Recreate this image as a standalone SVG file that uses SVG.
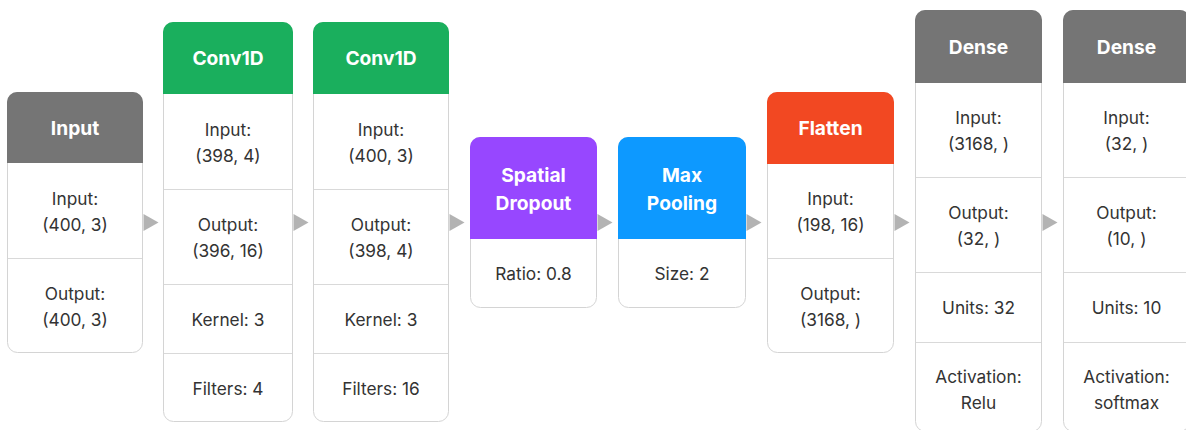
<svg xmlns="http://www.w3.org/2000/svg" width="1186" height="430" viewBox="0 0 1186 430">
<style>
.box{fill:#ffffff;stroke:#d4d4d4;stroke-width:1}
.div{stroke:#d9d9d9;stroke-width:1}
.hd{font-family:Inter,"Liberation Sans",sans-serif;font-weight:700;font-size:19.2px;fill:#ffffff;text-anchor:middle;dominant-baseline:central}
.tx{font-family:Inter,"Liberation Sans",sans-serif;font-weight:400;font-size:17.3px;fill:#333333;text-anchor:middle;dominant-baseline:central}
.arr{fill:#b3b3b3}
.gray{fill:#757575}.green{fill:#1aaf5d}.purple{fill:#9747ff}.blue{fill:#0d99ff}.red{fill:#f24822}
</style>
<rect width="1186" height="430" fill="#ffffff"/>

<g id="node-input">
<rect class="box" x="7.5" y="92.5" width="135" height="260" rx="10"/>
<path class="gray" d="M7,163 V102 A10,10 0 0 1 17,92 H133 A10,10 0 0 1 143,102 V163 Z"/>
<text class="hd" x="75" y="128">Input</text>
<line class="div" x1="8" y1="258.5" x2="142" y2="258.5"/>
<text class="tx" x="75" y="198">Input:</text>
<text class="tx" x="75" y="224">(400, 3)</text>
<text class="tx" x="75" y="293">Output:</text>
<text class="tx" x="75" y="319">(400, 3)</text>
</g>

<g id="node-conv1">
<rect class="box" x="163.5" y="22.5" width="129" height="399" rx="10"/>
<path class="green" d="M163,94 V32 A10,10 0 0 1 173,22 H283 A10,10 0 0 1 293,32 V94 Z"/>
<text class="hd" x="228" y="58">Conv1D</text>
<line class="div" x1="164" y1="189.5" x2="292" y2="189.5"/>
<line class="div" x1="164" y1="284.5" x2="292" y2="284.5"/>
<line class="div" x1="164" y1="353.5" x2="292" y2="353.5"/>
<text class="tx" x="228" y="129">Input:</text>
<text class="tx" x="228" y="155">(398, 4)</text>
<text class="tx" x="228" y="224">Output:</text>
<text class="tx" x="228" y="250">(396, 16)</text>
<text class="tx" x="228" y="319">Kernel: 3</text>
<text class="tx" x="228" y="388">Filters: 4</text>
</g>

<g id="node-conv2">
<rect class="box" x="313.5" y="22.5" width="135" height="399" rx="10"/>
<path class="green" d="M313,94 V32 A10,10 0 0 1 323,22 H439 A10,10 0 0 1 449,32 V94 Z"/>
<text class="hd" x="381" y="58">Conv1D</text>
<line class="div" x1="314" y1="189.5" x2="448" y2="189.5"/>
<line class="div" x1="314" y1="284.5" x2="448" y2="284.5"/>
<line class="div" x1="314" y1="353.5" x2="448" y2="353.5"/>
<text class="tx" x="381" y="129">Input:</text>
<text class="tx" x="381" y="155">(400, 3)</text>
<text class="tx" x="381" y="224">Output:</text>
<text class="tx" x="381" y="250">(398, 4)</text>
<text class="tx" x="381" y="319">Kernel: 3</text>
<text class="tx" x="381" y="388">Filters: 16</text>
</g>

<g id="node-spatial-dropout">
<rect class="box" x="470.5" y="137.5" width="126" height="170" rx="10"/>
<path class="purple" d="M470,239 V147 A10,10 0 0 1 480,137 H587 A10,10 0 0 1 597,147 V239 Z"/>
<text class="hd" x="533.5" y="175">Spatial</text>
<text class="hd" x="533.5" y="203">Dropout</text>
<text class="tx" x="533.5" y="273">Ratio: 0.8</text>
</g>

<g id="node-max-pooling">
<rect class="box" x="618.5" y="137.5" width="127" height="170" rx="10"/>
<path class="blue" d="M618,239 V147 A10,10 0 0 1 628,137 H736 A10,10 0 0 1 746,147 V239 Z"/>
<text class="hd" x="682" y="175">Max</text>
<text class="hd" x="682" y="203">Pooling</text>
<text class="tx" x="682" y="273">Size: 2</text>
</g>

<g id="node-flatten">
<rect class="box" x="767.5" y="92.5" width="126" height="260" rx="10"/>
<path class="red" d="M767,164 V102 A10,10 0 0 1 777,92 H884 A10,10 0 0 1 894,102 V164 Z"/>
<text class="hd" x="830.5" y="128">Flatten</text>
<line class="div" x1="768" y1="258.5" x2="893" y2="258.5"/>
<text class="tx" x="830.5" y="198">Input:</text>
<text class="tx" x="830.5" y="224">(198, 16)</text>
<text class="tx" x="830.5" y="293">Output:</text>
<text class="tx" x="830.5" y="319">(3168, )</text>
</g>

<g id="node-dense1">
<rect class="box" x="915.5" y="10.5" width="126" height="421" rx="10"/>
<path class="gray" d="M915,83 V20 A10,10 0 0 1 925,10 H1032 A10,10 0 0 1 1042,20 V83 Z"/>
<text class="hd" x="978.5" y="46.5">Dense</text>
<line class="div" x1="916" y1="177.5" x2="1041" y2="177.5"/>
<line class="div" x1="916" y1="272.5" x2="1041" y2="272.5"/>
<line class="div" x1="916" y1="342.5" x2="1041" y2="342.5"/>
<text class="tx" x="978.5" y="117">Input:</text>
<text class="tx" x="978.5" y="143">(3168, )</text>
<text class="tx" x="978.5" y="212">Output:</text>
<text class="tx" x="978.5" y="238">(32, )</text>
<text class="tx" x="978.5" y="307">Units: 32</text>
<text class="tx" x="978.5" y="376">Activation:</text>
<text class="tx" x="978.5" y="402">Relu</text>
</g>

<g id="node-dense2">
<rect class="box" x="1063.5" y="10.5" width="126" height="421" rx="10"/>
<path class="gray" d="M1063,83 V20 A10,10 0 0 1 1073,10 H1180 A10,10 0 0 1 1190,20 V83 Z"/>
<text class="hd" x="1126.5" y="46.5">Dense</text>
<line class="div" x1="1064" y1="177.5" x2="1189" y2="177.5"/>
<line class="div" x1="1064" y1="272.5" x2="1189" y2="272.5"/>
<line class="div" x1="1064" y1="342.5" x2="1189" y2="342.5"/>
<text class="tx" x="1126.5" y="117">Input:</text>
<text class="tx" x="1126.5" y="143">(32, )</text>
<text class="tx" x="1126.5" y="212">Output:</text>
<text class="tx" x="1126.5" y="238">(10, )</text>
<text class="tx" x="1126.5" y="307">Units: 10</text>
<text class="tx" x="1126.5" y="376">Activation:</text>
<text class="tx" x="1126.5" y="402">softmax</text>
</g>

<g id="connectors">
<polygon class="arr" points="143.5,214 158.5,222.5 143.5,231"/>
<polygon class="arr" points="293.5,214 308.5,222.5 293.5,231"/>
<polygon class="arr" points="449.5,214 464.5,222.5 449.5,231"/>
<polygon class="arr" points="597.5,214 612.5,222.5 597.5,231"/>
<polygon class="arr" points="746.5,214 761.5,222.5 746.5,231"/>
<polygon class="arr" points="894.5,214 909.5,222.5 894.5,231"/>
<polygon class="arr" points="1042.5,214 1057.5,222.5 1042.5,231"/>
</g>
</svg>
